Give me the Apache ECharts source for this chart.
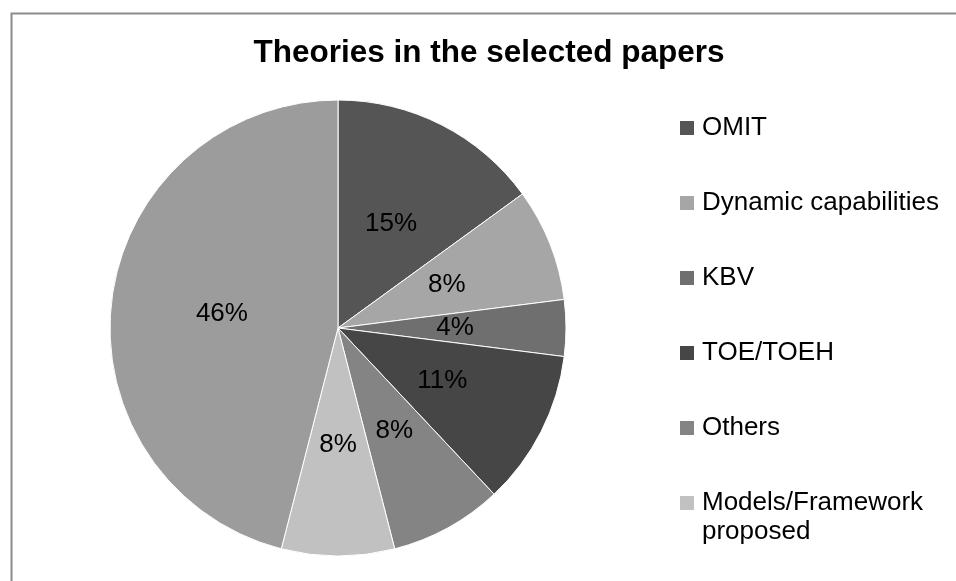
<!DOCTYPE html>
<html>
<head>
<meta charset="utf-8">
<script src="https://cdn.jsdelivr.net/npm/echarts@6/dist/echarts.min.js"></script>
<style>
html,body{margin:0;padding:0;background:#fff;}
#chart{width:956px;height:581px;}
</style>
</head>
<body>
<div id="chart"></div>
<script>
// Data (share of selected papers per theory, %)
const categories = ["OMIT", "Dynamic capabilities", "KBV", "TOE/TOEH", "Others", "Models/Framework proposed", "Not specified"];
const sharePercent = [15, 8, 4, 11, 8, 8, 46];
const legendTop = ["OMIT", "Dynamic capabilities", "KBV", "TOE/TOEH", "Others"];
const legendBottom = ["Models/Framework proposed"];
const sliceColors = ["#555555", "#a6a6a6", "#6f6f6f", "#464646", "#848484", "#c1c1c1", "#9c9c9c"];

const FONT = "'Liberation Sans', Arial, sans-serif";
const chart = echarts.init(document.getElementById('chart'), null, {renderer: 'canvas'});

const legendText = {fontSize: 26, color: '#000', fontFamily: FONT, lineHeight: 29, padding: [0, 0, 0, 3]};

chart.setOption({
  animation: false,
  backgroundColor: '#ffffff',
  color: sliceColors,
  graphic: [{
    type: 'rect',
    left: 9, top: 11,
    shape: {width: 1000, height: 1000},
    style: {fill: 'none', stroke: '#8c8c8c', lineWidth: 2},
    silent: true, z: -1
  }],
  title: {
    text: 'Theories in the selected papers',
    left: 484, top: 32, textAlign: 'center',
    textStyle: {fontSize: 31.5, fontWeight: 'bold', color: '#000', fontFamily: FONT}
  },
  legend: [{
    data: legendTop,
    orient: 'vertical',
    left: 680, top: 113.5,
    padding: 0,
    itemGap: 46,
    itemWidth: 14, itemHeight: 14,
    icon: 'rect',
    itemStyle: {borderWidth: 0},
    textStyle: legendText,
    selectedMode: false
  }, {
    data: legendBottom,
    orient: 'vertical',
    left: 680, top: 459.5,
    padding: 0,
    itemWidth: 14, itemHeight: 14,
    icon: 'rect',
    itemStyle: {borderWidth: 0},
    textStyle: legendText,
    formatter: function () { return ' \nModels/Framework\nproposed'; },
    selectedMode: false
  }],
  series: [{
    type: 'pie',
    center: [338, 328],
    radius: 228,
    startAngle: 90,
    clockwise: true,
    avoidLabelOverlap: false,
    itemStyle: {borderColor: '#ffffff', borderWidth: 1},
    label: {
      show: true,
      position: 'inside',
      fontSize: 26,
      color: '#000',
      fontFamily: FONT,
      formatter: function (p) { return Math.round(p.percent) + '%'; }
    },
    labelLine: {show: false},
    emphasis: {disabled: true},
    data: categories.map(function (c, i) { return {name: c, value: sharePercent[i]}; })
  }]
});
</script>
</body>
</html>
